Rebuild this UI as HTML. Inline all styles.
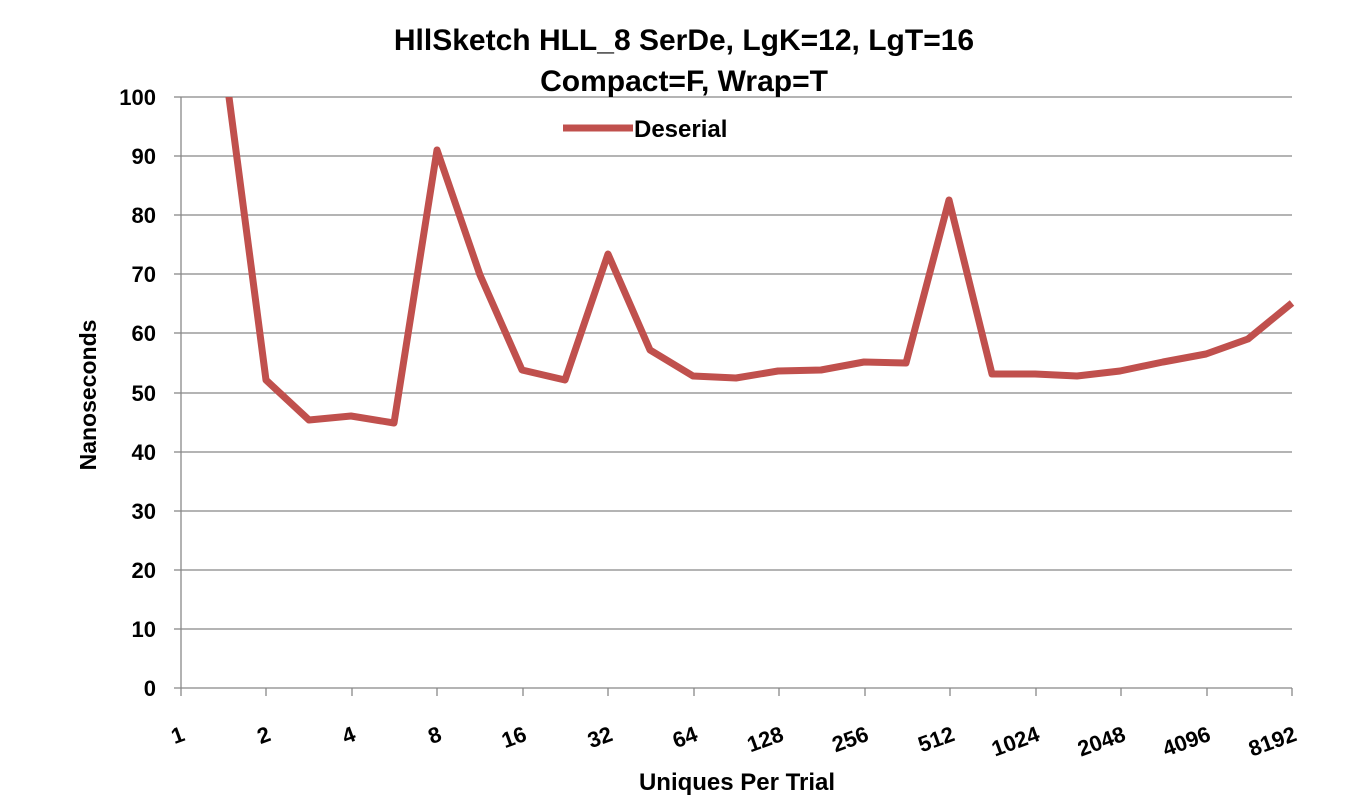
<!DOCTYPE html>
<html><head><style>body{margin:0;background:#fff}svg{display:block}</style></head><body>
<svg width="1353" height="800" xmlns="http://www.w3.org/2000/svg" font-family="Liberation Sans, sans-serif" font-weight="bold">
<defs><clipPath id="c"><rect x="181" y="97" width="1115" height="595"/></clipPath></defs>
<g stroke="#888" stroke-width="1.3">
<line x1="181" y1="97" x2="1292" y2="97"/><line x1="181" y1="156" x2="1292" y2="156"/><line x1="181" y1="215" x2="1292" y2="215"/><line x1="181" y1="274" x2="1292" y2="274"/><line x1="181" y1="333" x2="1292" y2="333"/><line x1="181" y1="393" x2="1292" y2="393"/><line x1="181" y1="452" x2="1292" y2="452"/><line x1="181" y1="511" x2="1292" y2="511"/><line x1="181" y1="570" x2="1292" y2="570"/><line x1="181" y1="629" x2="1292" y2="629"/>
<line x1="174" y1="688" x2="1292" y2="688"/><line x1="181" y1="97" x2="181" y2="688"/>
<line x1="174" y1="97" x2="181" y2="97"/><line x1="174" y1="156" x2="181" y2="156"/><line x1="174" y1="215" x2="181" y2="215"/><line x1="174" y1="274" x2="181" y2="274"/><line x1="174" y1="333" x2="181" y2="333"/><line x1="174" y1="393" x2="181" y2="393"/><line x1="174" y1="452" x2="181" y2="452"/><line x1="174" y1="511" x2="181" y2="511"/><line x1="174" y1="570" x2="181" y2="570"/><line x1="174" y1="629" x2="181" y2="629"/>
<line x1="181" y1="688" x2="181" y2="696"/><line x1="266" y1="688" x2="266" y2="696"/><line x1="352" y1="688" x2="352" y2="696"/><line x1="437" y1="688" x2="437" y2="696"/><line x1="523" y1="688" x2="523" y2="696"/><line x1="608" y1="688" x2="608" y2="696"/><line x1="694" y1="688" x2="694" y2="696"/><line x1="779" y1="688" x2="779" y2="696"/><line x1="865" y1="688" x2="865" y2="696"/><line x1="950" y1="688" x2="950" y2="696"/><line x1="1036" y1="688" x2="1036" y2="696"/><line x1="1121" y1="688" x2="1121" y2="696"/><line x1="1207" y1="688" x2="1207" y2="696"/><line x1="1292" y1="688" x2="1292" y2="696"/>
</g>
<g font-size="22" text-anchor="end" fill="#000">
<text x="156" y="105">100</text><text x="156" y="164">90</text><text x="156" y="223">80</text><text x="156" y="282">70</text><text x="156" y="341">60</text><text x="156" y="401">50</text><text x="156" y="460">40</text><text x="156" y="519">30</text><text x="156" y="578">20</text><text x="156" y="637">10</text><text x="156" y="696">0</text>
</g>
<g font-size="22" text-anchor="end" fill="#000">
<text transform="translate(186,740) rotate(-20)">1</text>
<text transform="translate(272,740) rotate(-20)">2</text>
<text transform="translate(357,740) rotate(-20)">4</text>
<text transform="translate(443,740) rotate(-20)">8</text>
<text transform="translate(528,740) rotate(-20)">16</text>
<text transform="translate(614,740) rotate(-20)">32</text>
<text transform="translate(699,740) rotate(-20)">64</text>
<text transform="translate(785,740) rotate(-20)">128</text>
<text transform="translate(870,740) rotate(-20)">256</text>
<text transform="translate(956,740) rotate(-20)">512</text>
<text transform="translate(1041,740) rotate(-20)">1024</text>
<text transform="translate(1127,740) rotate(-20)">2048</text>
<text transform="translate(1212,740) rotate(-20)">4096</text>
<text transform="translate(1298,740) rotate(-20)">8192</text>
</g>
<polyline clip-path="url(#c)" fill="none" stroke="#C0504D" stroke-width="7" stroke-linejoin="round" points="224,59 266,380 309,420 351,416 394,423 437,150 480,275 522,370 565,380 608,254 650,350 693,376 736,378 778,371 821,370 864,362 906,363 949,200 992,374 1035,374 1077,376 1120,371 1163,362 1206,354 1248,339 1292,303"/>
<line x1="563" y1="128" x2="633" y2="128" stroke="#C0504D" stroke-width="7"/>
<text x="634" y="137" font-size="24">Deserial</text>
<g font-size="30" text-anchor="middle">
<text x="684" y="50">HllSketch HLL_8 SerDe, LgK=12, LgT=16</text>
<text x="684" y="91">Compact=F, Wrap=T</text>
</g>
<text x="737" y="790" font-size="24" text-anchor="middle">Uniques Per Trial</text>
<text transform="translate(96,395) rotate(-90)" font-size="23" text-anchor="middle">Nanoseconds</text>
</svg>
</body></html>
